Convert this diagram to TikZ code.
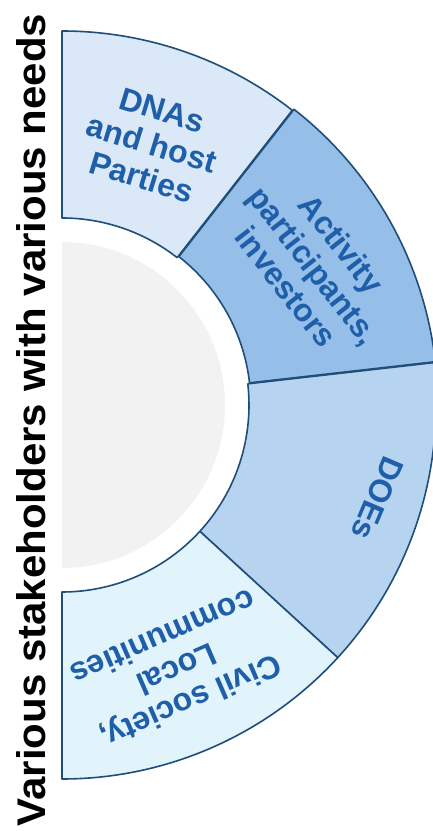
\documentclass[tikz,border=0pt]{standalone}
\usepackage{fontspec}
\setmainfont{Liberation Sans}
\usepackage{tikz}

\definecolor{segline}{HTML}{1F4E79}
\definecolor{lbltext}{HTML}{1F5FAA}
\definecolor{hubgray}{HTML}{F2F2F2}
\definecolor{dnafill}{HTML}{DAE8F7}
\definecolor{actfill}{HTML}{95BFE8}
\definecolor{doefill}{HTML}{B6D4F0}
\definecolor{civfill}{HTML}{E1F3FB}

\begin{document}
\begin{tikzpicture}[x=1pt,y=1pt,
  seg/.style={draw=segline,line width=1.6pt,line join=round},
  lbl/.style={text=lbltext,font=\fontsize{32}{35}\selectfont\bfseries,align=center}]
\useasboundingbox (0,0) rectangle (433,831);

\node[rotate=90,anchor=base,font=\fontsize{40}{48}\selectfont\bfseries] (title) at (46,411)
  {\scalebox{1.05}[1]{Various stakeholders with various needs}};

\begin{scope}[shift={(62,426)}]
\fill[hubgray] (90:163) arc[start angle=90,end angle=-90,radius=163] -- cycle;

\draw[seg,fill=dnafill] (52:187) -- (52:374) arc[start angle=52,end angle=90,radius=374]
  -- (90:187) arc[start angle=90,end angle=52,radius=187] -- cycle;
\draw[seg,fill=doefill] (-42.5:187) -- (-42.5:374) arc[start angle=-42.5,end angle=6.5,radius=374]
  -- (6.5:187) arc[start angle=6.5,end angle=-42.5,radius=187] -- cycle;
\draw[seg,fill=civfill] (-90:187) -- (-90:374) arc[start angle=-90,end angle=-42.5,radius=374]
  -- (-42.5:187) arc[start angle=-42.5,end angle=-90,radius=187] -- cycle;
% pulled out a little
\begin{scope}[shift={(29:2)}]
\draw[seg,fill=actfill] (6.5:187) -- (6.5:374) arc[start angle=6.5,end angle=52,radius=374]
  -- (52:187) arc[start angle=52,end angle=6.5,radius=187] -- cycle;
\end{scope}

\node[lbl,rotate=-17] (dna) at (71:276) {DNAs\\and host\\Parties};
\node[lbl,rotate=-52] (act) at (29:288) {Activity\\participants,\\investors};
\node[lbl,rotate=-113] (doe) at (-16.5:329) {DOEs};
\node[lbl,rotate=-156.5] (civ) at (-66.5:289) {Civil society,\\Local\\communities};
\end{scope}
\end{tikzpicture}
\end{document}
